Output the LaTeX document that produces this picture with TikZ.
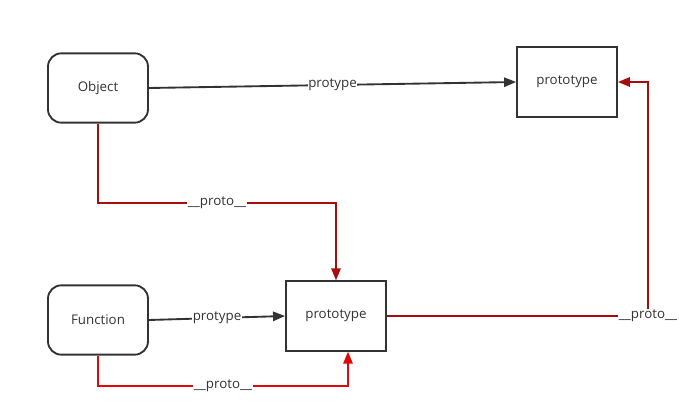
\documentclass[tikz,border=0pt]{standalone}
\usepackage{fontspec}
\setmainfont{Open Sans}
\usetikzlibrary{arrows.meta}
\definecolor{inkgrey}{RGB}{51,51,51}
\definecolor{protodark}{RGB}{168,12,12}
\definecolor{protobright}{RGB}{224,8,8}
\tikzset{
  typebox/.style={draw=inkgrey, line width=1.4pt, rounded corners=10pt, minimum width=75pt, minimum height=52pt, text=inkgrey, font=\fontsize{10}{12}\selectfont},
  protobox/.style={draw=inkgrey, line width=1.4pt, minimum width=75pt, minimum height=52pt, text=inkgrey, font=\fontsize{10}{12}\selectfont},
  link/.style={draw=inkgrey, line width=1.4pt, -{Triangle[length=9pt,width=7pt]}},
  protolink/.style={line width=1.4pt, -{Triangle[length=9pt,width=7pt]}},
  lbl/.style={fill=white, inner sep=0.5pt, text=inkgrey, font=\fontsize{10}{12}\selectfont}
}
\begin{document}
\begin{tikzpicture}[x=0.75pt,y=-0.75pt]
			\useasboundingbox (0,0) rectangle (679,417);
			
			\node[typebox] (object) at (98,88) {Object};
			\node[typebox] (function) at (98,320) {Function};
			\node[protobox] (objproto) at (567,82) {prototype};
			\node[protobox] (funproto) at (336,316) {prototype};
			
			\draw[link] (object.east) -- node[lbl] {protype} (objproto.west);
			\draw[link] (function.east) -- node[lbl] {protype} (funproto.west);
			
			\draw[protolink, draw=protodark] (object.south) -- ++(0,79) -| node[lbl, pos=0.25] {\_\_proto\_\_} (funproto.north);
			\draw[protolink, draw=protobright] (function.south) -- ++(0,30) -| node[lbl, pos=0.25] {\_\_proto\_\_} ([xshift=9pt]funproto.south);
			
			\coordinate (bend) at (648,316);
			\draw[protolink, draw=protodark] (funproto.east) -- (bend) node[lbl] {\_\_proto\_\_} |- (objproto.east);
\end{tikzpicture}
\end{document}
